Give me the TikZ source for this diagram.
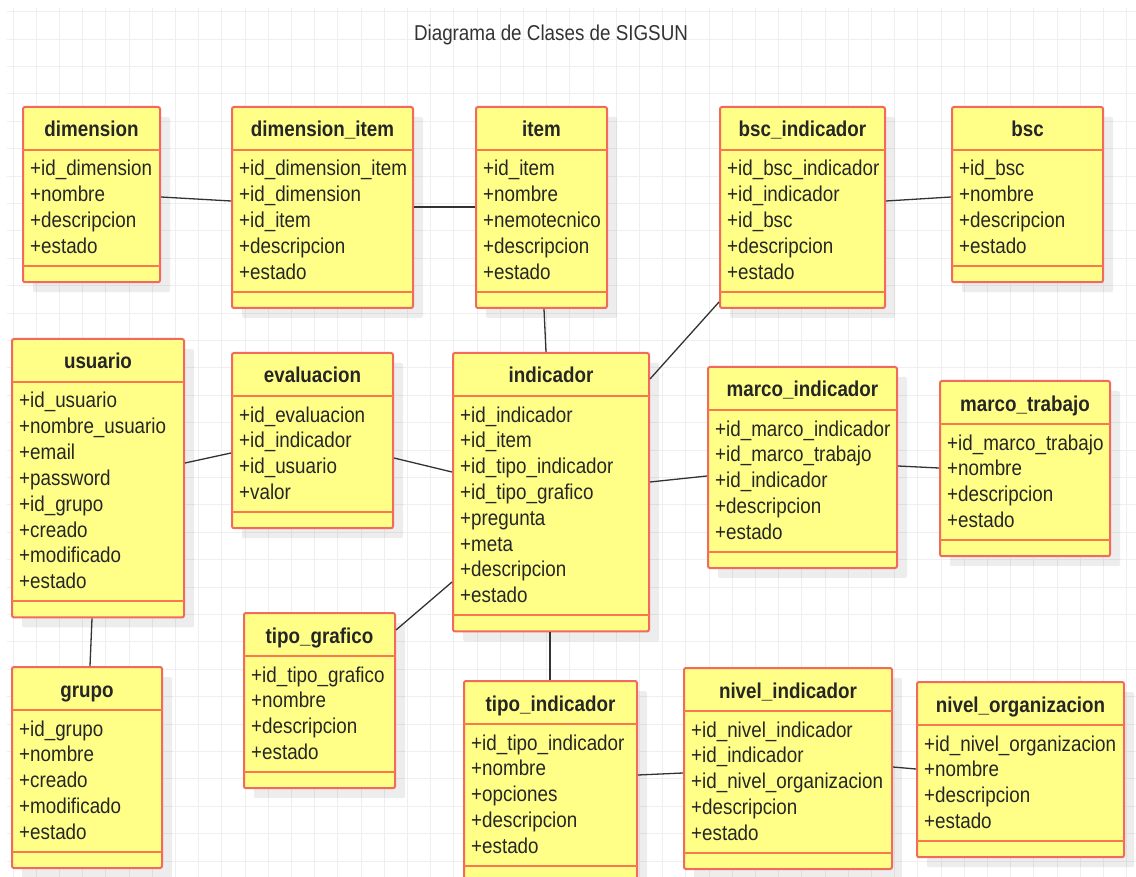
\documentclass[tikz,border=0pt]{standalone}
\usepackage{fontspec}
\setmainfont{Liberation Sans}[FakeStretch=0.875]
\usetikzlibrary{calc,shadows}
\definecolor{clsfill}{HTML}{FFFF88}
\definecolor{clsborder}{HTML}{F26A5C}
\definecolor{clsdiv}{HTML}{FA7850}
\definecolor{txt}{HTML}{262626}
\definecolor{gridc}{HTML}{EFEFEF}
\definecolor{conn}{HTML}{333333}
\tikzset{
  clsbox/.style={draw=clsborder, fill=clsfill, line width=2pt, rounded corners=2pt,
    inner sep=0pt, outer sep=0pt,
    drop shadow={shadow xshift=10pt, shadow yshift=-10pt, fill=black, opacity=0.07}},
  clsline/.style={draw=clsdiv, line width=2pt},
  clstitle/.style={inner sep=0pt, text=txt, font=\fontsize{21.5}{25.8}\selectfont\bfseries},
  clsattr/.style={inner sep=0pt, text=txt, font=\fontsize{21.5}{25.8}\selectfont},
  conline/.style={draw=conn, line width=1.3pt},
  gridl/.style={draw=gridc, line width=1pt}
}
\newcommand{\umlcls}[7]{%
  \pgfmathsetmacro{\clsw}{#4-#2}%
  \pgfmathsetmacro{\clsh}{72+25.8*#5}%
  \node[clsbox, minimum width=\clsw pt, minimum height=\clsh pt, anchor=north west] (#1) at (#2,#3) {};
  \draw[clsline] ($(#1.north west)+(0,43)$) -- ($(#1.north east)+(0,43)$);
  \draw[clsline] ($(#1.south west)+(0,-16)$) -- ($(#1.south east)+(0,-16)$);
  \node[clstitle, anchor=base] (#1-t) at ($(#1.north)+(0,30)$) {#6};
  \foreach \a [count=\i] in {#7} {
    \node[clsattr, anchor=base west] (#1-\i) at ($(#1.north west)+(7,{69+25.8*(\i-1)})$) {\a};
  }
}
\begin{document}
\begin{tikzpicture}[x=1pt,y=-1pt]
\clip (0,0) rectangle (1136,877);
\fill[white] (0,0) rectangle (1136,877);
% grid
\foreach \i in {0,...,48} \draw[gridl] ({13+23.2*\i},8) -- ({13+23.2*\i},877);
\foreach \j in {0,...,31} \draw[gridl] (7,{11.7+27.4*\j}) -- (1136,{11.7+27.4*\j});
% title
\node[inner sep=0pt, anchor=base, text=black!80, font=\fontsize{21.5}{25.8}\selectfont] (title) at (551,41) {Diagrama de Clases de SIGSUN};
% classes
\umlcls{dimension}{23}{107}{160}{4}{dimension}{+id\_dimension,+nombre,+descripcion,+estado}
\umlcls{dimitem}{232}{107}{413}{5}{dimension\_item}{+id\_dimension\_item,+id\_dimension,+id\_item,+descripcion,+estado}
\umlcls{item}{476}{107}{607}{5}{item}{+id\_item,+nombre,+nemotecnico,+descripcion,+estado}
\umlcls{bscind}{720}{107}{885}{5}{bsc\_indicador}{+id\_bsc\_indicador,+id\_indicador,+id\_bsc,+descripcion,+estado}
\umlcls{bsc}{952}{107}{1103}{4}{bsc}{+id\_bsc,+nombre,+descripcion,+estado}
\umlcls{usuario}{12}{339}{184}{8}{usuario}{+id\_usuario,+nombre\_usuario,+email,+password,+id\_grupo,+creado,+modificado,+estado}
\umlcls{evaluacion}{232}{353}{393}{4}{evaluacion}{+id\_evaluacion,+id\_indicador,+id\_usuario,+valor}
\umlcls{indicador}{453}{353}{649}{8}{indicador}{+id\_indicador,+id\_item,+id\_tipo\_indicador,+id\_tipo\_grafico,+pregunta,+meta,+descripcion,+estado}
\umlcls{marcoind}{708}{367}{897}{5}{marco\_indicador}{+id\_marco\_indicador,+id\_marco\_trabajo,+id\_indicador,+descripcion,+estado}
\umlcls{marcotrab}{940}{381}{1110}{4}{marco\_trabajo}{+id\_marco\_trabajo,+nombre,+descripcion,+estado}
\umlcls{tipograf}{244}{613}{395}{4}{tipo\_grafico}{+id\_tipo\_grafico,+nombre,+descripcion,+estado}
\umlcls{grupo}{12}{667}{162}{5}{grupo}{+id\_grupo,+nombre,+creado,+modificado,+estado}
\umlcls{tipoind}{464}{681}{637}{5}{tipo\_indicador}{+id\_tipo\_indicador,+nombre,+opciones,+descripcion,+estado}
\umlcls{nivelind}{684}{668}{892}{5}{nivel\_indicador}{+id\_nivel\_indicador,+id\_indicador,+id\_nivel\_organizacion,+descripcion,+estado}
\umlcls{nivelorg}{917}{682}{1124}{4}{nivel\_organizacion}{+id\_nivel\_organizacion,+nombre,+descripcion,+estado}
% connectors
\draw[conline] ($(dimension.north east)+(1,90)$) -- ($(dimitem.north west)+(-1,94)$);
\draw[conline] ($(dimitem.north east)+(1,100)$) -- ($(item.north west)+(-1,100)$);
\draw[conline] ($(item.south west)+(68,1)$) -- ($(indicador.north west)+(93,-1)$);
\draw[conline] ($(bscind.north east)+(1,94)$) -- ($(bsc.north west)+(-1,90)$);
\draw[conline] ($(bscind.south west)+(-1,-6)$) -- ($(indicador.north east)+(1,26)$);
\draw[conline] ($(usuario.north east)+(1,124)$) -- ($(evaluacion.north west)+(-1,100)$);
\draw[conline] ($(evaluacion.north east)+(1,105)$) -- ($(indicador.north west)+(-1,119)$);
\draw[conline] ($(indicador.north east)+(1,129)$) -- ($(marcoind.north west)+(-1,109)$);
\draw[conline] ($(marcoind.north east)+(1,99)$) -- ($(marcotrab.north west)+(-1,87)$);
\draw[conline] ($(tipograf.north east)+(1,17)$) -- ($(indicador.north west)+(-1,229)$);
\draw[conline] ($(usuario.south west)+(80,1)$) -- ($(grupo.north west)+(78,-1)$);
\draw[conline] ($(indicador.south west)+(97,1)$) -- ($(tipoind.north west)+(86,-1)$);
\draw[conline] ($(tipoind.north east)+(1,94)$) -- ($(nivelind.north west)+(-1,105)$);
\draw[conline] ($(nivelind.north east)+(1,99)$) -- ($(nivelorg.north west)+(-1,87)$);
\end{tikzpicture}
\end{document}
